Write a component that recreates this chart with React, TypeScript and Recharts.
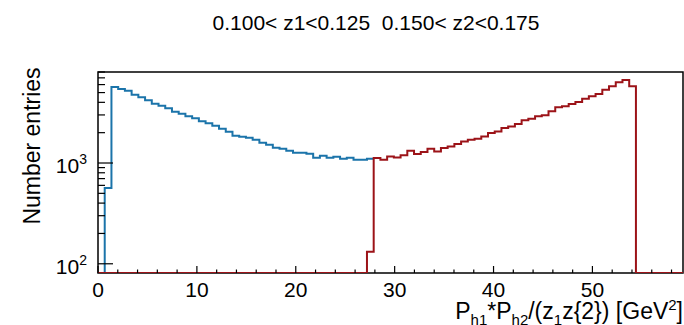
import { LineChart, Line, XAxis, YAxis, ReferenceArea } from 'recharts'

// histogram binning (bin width)
const binWidth = 0.68
const nBins = 87
const yFloor = 81
const yTop = 8000

// blue histogram, first filled bin index and contents
const blueStart = 1
const blueCounts = [
  565, 5690, 5430, 5225, 4765, 4500, 4185, 3880, 3705, 3500, 3230, 3090, 2905, 2785,
  2590, 2485, 2345, 2190, 2045, 1866, 1825, 1783, 1704, 1591, 1520, 1419, 1387, 1325,
  1265, 1265, 1237, 1129, 1181, 1129, 1155, 1104, 1129, 1079, 1079, 1104,
]

// red histogram
const redStart = 40
const redCounts = [
  132, 1121, 1078, 1163, 1137, 1195, 1325, 1228, 1286, 1387, 1304, 1409, 1462, 1544,
  1638, 1704, 1743, 1837, 1986, 2060, 2227, 2309, 2440, 2649, 2754, 2903, 2970, 3254,
  3566, 3649, 3853, 4035, 4351, 4584, 4842, 5345, 5765, 6345, 6671, 5765,
]

const xTicks = [0, 2, 4, 6, 8, 10, 12, 14, 16, 18, 20, 22, 24, 26, 28, 30, 32, 34, 36, 38, 40, 42, 44, 46, 48, 50, 52, 54, 56, 58]
const xLabels = [0, 10, 20, 30, 40, 50]
const yTicks = [100, 200, 300, 400, 500, 600, 700, 800, 900, 1000, 2000, 3000, 4000, 5000, 6000, 7000, 8000]
const yLabels = [100, 1000]

const title = '0.100< z1<0.125  0.150< z2<0.175'
const font = '"Liberation Sans", Arial, Helvetica, sans-serif'

// step points: one per low edge (empty bins sit on the frame), plus a closing point
function toSteps(start: number, counts: number[], lastBin: number) {
  const pts = []
  for (let k = 0; k <= lastBin + 1; k++) {
    const i = Math.min(k, lastBin) - start
    const c = i >= 0 && i < counts.length ? counts[i] : 0
    pts.push({ x: +(k * binWidth).toFixed(2), y: c > yFloor ? c : yFloor })
  }
  return pts
}

const blueData = toSteps(blueStart, blueCounts, blueStart + blueCounts.length - 1)
const redData = toSteps(redStart, redCounts, nBins - 1)
const xMax = +(nBins * binWidth).toFixed(2)

function XTick({ x, y, payload }: any) {
  const v = payload.value
  const major = xLabels.includes(v)
  return (
    <g>
      <line x1={x} x2={x} y1={y} y2={y - (major ? 7 : 3.5)} stroke="#000" strokeWidth={1.2} />
      {major && (
        <text x={x} y={y + 24} textAnchor="middle" fontSize={21} fontFamily={font} fill="#000">
          {v}
        </text>
      )}
    </g>
  )
}

function YTick({ x, y, payload }: any) {
  const v = payload.value
  const major = yLabels.includes(v)
  return (
    <g>
      <line x1={x} x2={x + (major ? 15 : 7)} y1={y} y2={y} stroke="#000" strokeWidth={1.2} />
      {major && (
        <text x={x - 11} y={y + 10} textAnchor="end" fontSize={21} fontFamily={font} fill="#000">
          10<tspan dy={-9} fontSize={14}>{Math.round(Math.log10(v))}</tspan>
        </text>
      )}
    </g>
  )
}

export default function App() {
  return (
    <div style={{ position: 'absolute', left: 0, top: 0, width: 684, height: 325, background: '#fff' }}>
      <LineChart width={684} height={325} margin={{ top: 72, right: 1, bottom: 22, left: 38 }}>
        <ReferenceArea x1={0} x2={xMax} y1={yFloor} y2={yTop} fill="none" stroke="#000" strokeWidth={1.5} ifOverflow="visible" />
        <XAxis
          dataKey="x"
          type="number"
          domain={[0, xMax]}
          allowDataOverflow
          ticks={xTicks}
          interval={0}
          height={30}
          tickSize={0}
          tickMargin={0}
          axisLine={false}
          tick={<XTick />}
        />
        <YAxis
          dataKey="y"
          scale="log"
          domain={[yFloor, yTop]}
          allowDataOverflow
          ticks={yTicks}
          interval={0}
          width={60}
          tickSize={0}
          tickMargin={0}
          axisLine={false}
          tick={<YTick />}
        />
        <Line data={blueData} dataKey="y" type="stepAfter" stroke="#1b74aa" strokeWidth={2} dot={false} isAnimationActive={false} />
        <Line data={redData} dataKey="y" type="stepAfter" stroke="#9c1318" strokeWidth={2} dot={false} isAnimationActive={false} />
      </LineChart>
      <svg width={684} height={325} style={{ position: 'absolute', left: 0, top: 0, pointerEvents: 'none' }}>
        <text x={376} y={30} textAnchor="middle" fontSize={21} fontFamily={font} style={{ whiteSpace: 'pre' }}>
          {title}
        </text>
        <text transform="translate(40,146) rotate(-90)" textAnchor="middle" fontSize={23} fontFamily={font}>
          Number entries
        </text>
        <text x={683} y={319} textAnchor="end" fontSize={23} fontFamily={font} style={{ whiteSpace: 'pre' }}>
          P<tspan dy={6} fontSize={15}>h1</tspan>
          <tspan dy={-6}>*P</tspan>
          <tspan dy={6} fontSize={15}>h2</tspan>
          <tspan dy={-6}>/(z</tspan>
          <tspan dy={6} fontSize={15}>1</tspan>
          <tspan dy={-6}>{'z{2}) [GeV'}</tspan>
          <tspan dy={-9} fontSize={15}>2</tspan>
          <tspan dy={9}>]</tspan>
        </text>
      </svg>
    </div>
  )
}
